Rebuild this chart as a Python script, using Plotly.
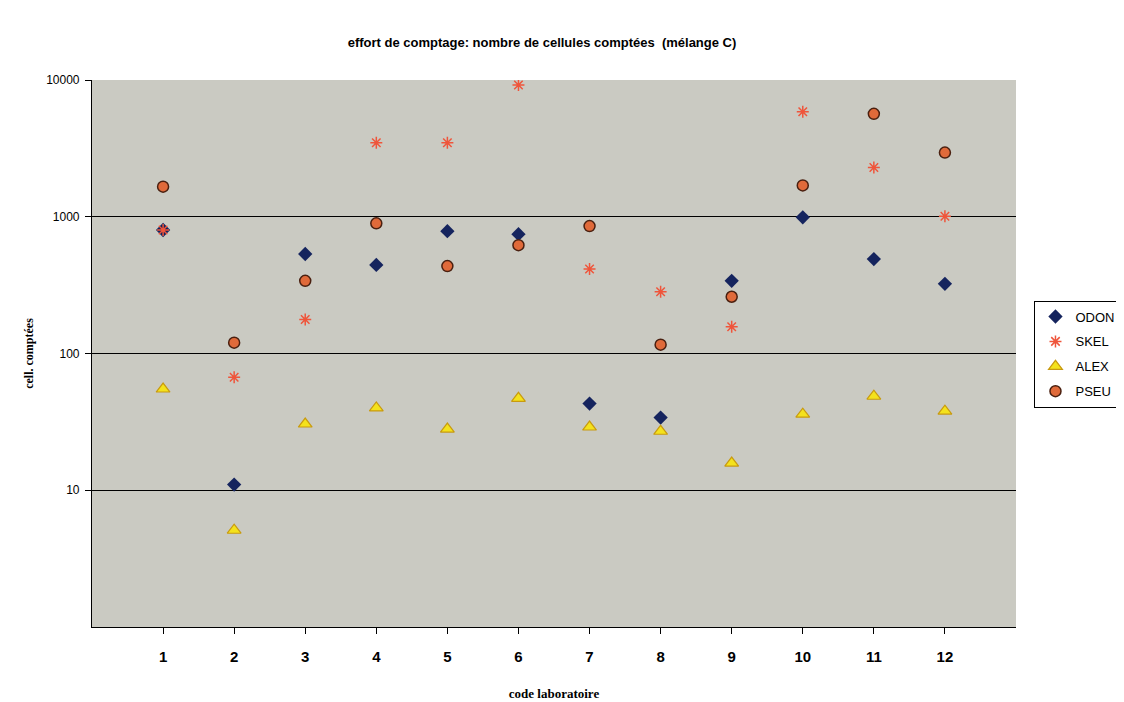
import plotly.graph_objects as go

labs = [1, 2, 3, 4, 5, 6, 7, 8, 9, 10, 11, 12]
odon = [800, 11, 534, 444, 785, 746, 43, 34, 340, 990, 490, 323]
skel = [800, 67, 177, 3480, 3480, 9200, 415, 283, 157, 5850, 2290, 1008]
alex = [55, 5.1, 30.5, 40, 28, 47, 29, 27, 15.8, 36, 48.7, 37.9]
pseu = [1660, 120, 340, 895, 436, 620, 855, 116, 260, 1695, 5660, 2946]

y_ticks = [10, 100, 1000, 10000]
y_ticktext = ["10", "100", "1000", "10000"]

fig = go.Figure()
fig.add_trace(go.Scatter(x=labs, y=odon, mode="markers", name="ODON", legendgroup="a",
                         marker=dict(symbol="diamond", size=11, color="#15245e",
                                     line=dict(width=0))))
fig.add_trace(go.Scatter(x=labs, y=skel, mode="markers", name="SKEL", legendgroup="b",
                         marker=dict(symbol="asterisk-open", size=10,
                                     line=dict(width=1.5, color="#e8552a"))))
fig.add_trace(go.Scatter(x=labs, y=alex, mode="markers", name="ALEX", legendgroup="c",
                         marker=dict(symbol="triangle-up", size=12, color="#f4e21c",
                                     line=dict(width=1.2, color="#c89a10"))))
fig.add_trace(go.Scatter(x=labs, y=pseu, mode="markers", name="PSEU", legendgroup="d",
                         marker=dict(symbol="circle", size=11, color="#e06a3a",
                                     line=dict(width=1.5, color="#4a2010"))))

fig.update_layout(
    width=1124, height=702,
    margin=dict(l=84, r=106, t=72, b=78),
    paper_bgcolor="white",
    plot_bgcolor="#cacac2",
    title=dict(text="effort de comptage: nombre de cellules comptées  (mélange C)",
               xref="paper", x=0.487, xanchor="center",
               yref="container", y=1 - 34 / 702, yanchor="middle",
               font=dict(family="Liberation Sans, Arial", size=13, color="black",
                         weight="bold")),
    legend=dict(x=1.02, xanchor="left", y=0.499, yanchor="middle",
                bgcolor="white", bordercolor="black", borderwidth=1,
                font=dict(family="Liberation Sans Narrow, Liberation Sans, Arial", size=13,
                          color="black"),
                itemwidth=30, tracegroupgap=5),
    showlegend=True,
)

fig.update_xaxes(
    range=[0, 13], tickvals=labs, ticktext=[str(v) for v in labs],
    showgrid=False, zeroline=False,
    showline=True, linecolor="black", linewidth=1.2,
    ticks="outside", ticklen=6, tickcolor="black", ticklabelstandoff=10,
    tickfont=dict(family="Liberation Sans Narrow, Liberation Sans, Arial", size=15,
                  color="black", weight="bold"),
    title=dict(text="code laboratoire", standoff=24,
               font=dict(family="Liberation Serif, Times New Roman", size=13,
                         color="black", weight="bold")),
)

fig.update_yaxes(
    type="log", range=[0, 4], tickvals=y_ticks, ticktext=y_ticktext,
    showgrid=True, gridcolor="black", gridwidth=1.2,
    zeroline=False,
    showline=True, linecolor="black", linewidth=1.2,
    ticks="outside", ticklen=6, tickcolor="black", ticklabelstandoff=3,
    tickfont=dict(family="Liberation Sans, Arial", size=12, color="black"),
    title=dict(text="cell. comptées", standoff=9,
               font=dict(family="Liberation Serif, Times New Roman", size=12,
                         color="black", weight="bold")),
)

fig.write_html("out.html")
